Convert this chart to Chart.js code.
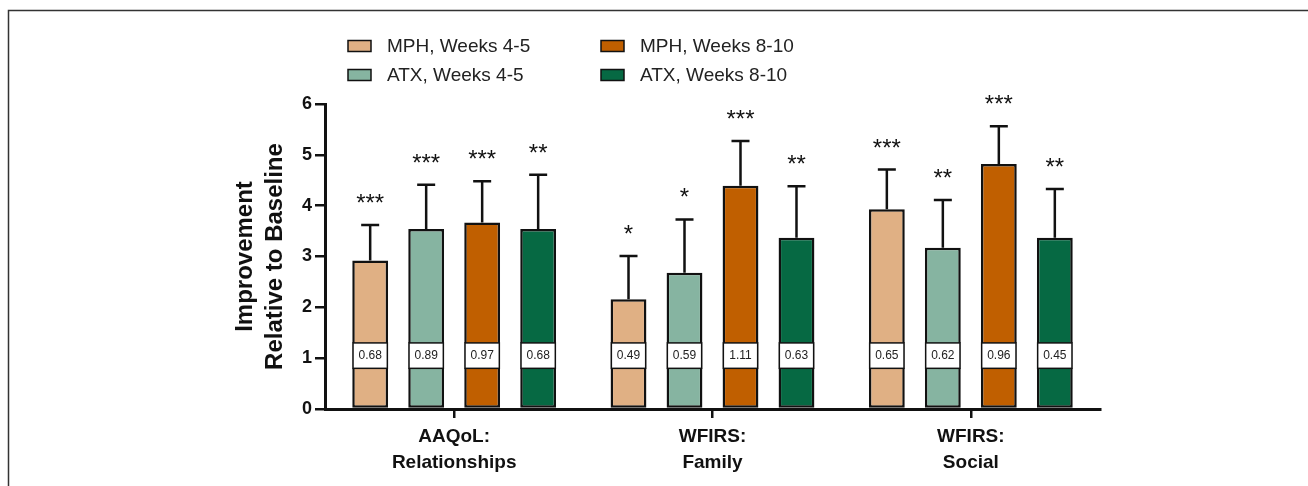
<!DOCTYPE html>
<html>
<head>
<meta charset="utf-8">
<script src="https://cdn.jsdelivr.net/npm/chart.js@4.4.1/dist/chart.umd.min.js"></script>
<style>
  body { margin: 0; background: #fff; }
  #wrap { width: 1308px; height: 486px; }
</style>
</head>
<body>
<div id="wrap"><canvas id="barChart" width="1308" height="486"></canvas></div>
<script>
// categories (x axis, two-line labels)
const categories = [['AAQoL:', 'Relationships'], ['WFIRS:', 'Family'], ['WFIRS:', 'Social']]
const seriesNames = ['MPH, Weeks 4-5', 'ATX, Weeks 4-5', 'MPH, Weeks 8-10', 'ATX, Weeks 8-10']
const seriesColors = ['#E0B084', '#86B4A1', '#C05F00', '#066943']

// mean improvement
const mph45 = [2.92, 2.16, 3.93]
const atx45 = [3.54, 2.68, 3.17]
const mph810 = [3.67, 4.39, 4.82]
const atx810 = [3.54, 3.37, 3.37]

// upper error bar length
const mph45Err = [0.70, 0.85, 0.78]
const atx45Err = [0.87, 1.05, 0.94]
const mph810Err = [0.81, 0.88, 0.74]
const atx810Err = [1.07, 1.01, 0.96]

// effect sizes shown in the boxes
const mph45Eff = ['0.68', '0.49', '0.65']
const atx45Eff = ['0.89', '0.59', '0.62']
const mph810Eff = ['0.97', '1.11', '0.96']
const atx810Eff = ['0.68', '0.63', '0.45']

// significance stars
const mph45Sig = ['***', '*', '***']
const atx45Sig = ['***', '*', '**']
const mph810Sig = ['***', '***', '***']
const atx810Sig = ['**', '**', '**']

const yTicks = [0, 1, 2, 3, 4, 5, 6]
const yTitle = ['Improvement', 'Relative to Baseline']

const allValues = [mph45, atx45, mph810, atx810]
const allErr = [mph45Err, atx45Err, mph810Err, atx810Err]
const allEff = [mph45Eff, atx45Eff, mph810Eff, atx810Eff]
const allSig = [mph45Sig, atx45Sig, mph810Sig, atx810Sig]

const FONT = "'Liberation Sans', Arial, sans-serif"

//Plugin for error bars, effect size boxes, stars, legend and axis title
const extras = {
    id: 'extras',
    afterDatasetsDraw(chart) {
        const ctx = chart.ctx
        const y = chart.scales.y
        ctx.save()
        allValues.forEach((vals, i) => {
            const meta = chart.getDatasetMeta(i)
            meta.data.forEach((bar, j) => {
                const x = bar.x
                const w = bar.width
                const top = y.getPixelForValue(vals[j])
                const errTop = y.getPixelForValue(vals[j] + allErr[i][j])
                // error bar
                ctx.strokeStyle = '#111'
                ctx.lineWidth = 2.5
                ctx.beginPath()
                ctx.moveTo(x, top)
                ctx.lineTo(x, errTop)
                ctx.moveTo(x - 9, errTop)
                ctx.lineTo(x + 9, errTop)
                ctx.stroke()
                // effect size box
                const bTop = y.getPixelForValue(1.3)
                const bBot = y.getPixelForValue(0.8)
                ctx.fillStyle = '#fff'
                ctx.fillRect(x - w / 2, bTop, w, bBot - bTop)
                ctx.lineWidth = 1.5
                ctx.strokeRect(x - w / 2 + 0.75, bTop, w - 1.5, bBot - bTop)
                ctx.fillStyle = '#222'
                ctx.font = '12px ' + FONT
                ctx.textAlign = 'center'
                ctx.textBaseline = 'middle'
                ctx.fillText(allEff[i][j], x, (bTop + bBot) / 2 + 0.5)
                // stars
                ctx.fillStyle = '#111'
                ctx.font = '24px ' + FONT
                ctx.textBaseline = 'alphabetic'
                ctx.fillText(allSig[i][j], x, errTop - 14)
            })
        })
        ctx.restore()
    },
    afterDraw(chart) {
        const ctx = chart.ctx
        ctx.save()
        // frame
        ctx.strokeStyle = '#333'
        ctx.lineWidth = 1.5
        ctx.beginPath()
        ctx.moveTo(8.5, 486)
        ctx.lineTo(8.5, 10.5)
        ctx.lineTo(1308, 10.5)
        ctx.stroke()
        // legend (2 x 2)
        const order = [[0, 348, 46], [2, 601, 46], [1, 348, 75], [3, 601, 75]]
        ctx.font = '19px ' + FONT
        ctx.textAlign = 'left'
        ctx.textBaseline = 'middle'
        order.forEach(([k, lx, ly]) => {
            ctx.fillStyle = seriesColors[k]
            ctx.fillRect(lx, ly - 5.5, 23, 11)
            ctx.strokeStyle = '#111'
            ctx.lineWidth = 1.5
            ctx.strokeRect(lx, ly - 5.5, 23, 11)
            ctx.fillStyle = '#222'
            ctx.fillText(seriesNames[k], lx + 39, ly + 1)
        })
        // y axis title
        const yc = (chart.chartArea.top + chart.chartArea.bottom) / 2
        ctx.font = 'bold 24px ' + FONT
        ctx.fillStyle = '#111'
        ctx.textAlign = 'center'
        ctx.textBaseline = 'middle'
        ;[245, 275].forEach((tx, n) => {
            ctx.save()
            ctx.translate(tx, yc)
            ctx.rotate(-Math.PI / 2)
            ctx.fillText(yTitle[n], 0, 0)
            ctx.restore()
        })
        ctx.restore()
    }
}

const barChart = new Chart(document.getElementById('barChart').getContext('2d'), {
    type: 'bar',
    data: {
        labels: categories,
        datasets: allValues.map((vals, i) => ({
            label: seriesNames[i],
            data: vals,
            backgroundColor: seriesColors[i],
            borderColor: '#111',
            borderWidth: 2.5,
            borderSkipped: false,
            categoryPercentage: 0.867,
            barPercentage: 0.64
        }))
    },
    options: {
        responsive: false,
        animation: false,
        layout: { padding: { left: 265, right: 208, top: 104, bottom: 7 } },
        plugins: {
            legend: { display: false },
            tooltip: { enabled: false }
        },
        scales: {
            x: {
                afterFit: (scale) => { scale.height = 70 },
                grid: { display: true, drawOnChartArea: false, offset: false, tickLength: 9, color: '#111', lineWidth: 2.5 },
                border: { display: true, color: '#111', width: 3 },
                ticks: {
                    color: '#111',
                    padding: 5,
                    font: { family: FONT, size: 19, weight: 'bold', lineHeight: 1.4 }
                }
            },
            y: {
                min: 0,
                max: 6,
                afterFit: (scale) => { scale.width = 60 },
                afterBuildTicks: (scale) => { scale.ticks = yTicks.map((v) => ({ value: v })) },
                grid: { display: true, drawOnChartArea: false, tickLength: 10, color: '#111', lineWidth: 2.5 },
                border: { display: true, color: '#111', width: 3 },
                ticks: {
                    color: '#111',
                    padding: 3,
                    font: { family: FONT, size: 18, weight: 'bold' }
                }
            }
        }
    },
    plugins: [extras]
})
</script>
</body>
</html>
